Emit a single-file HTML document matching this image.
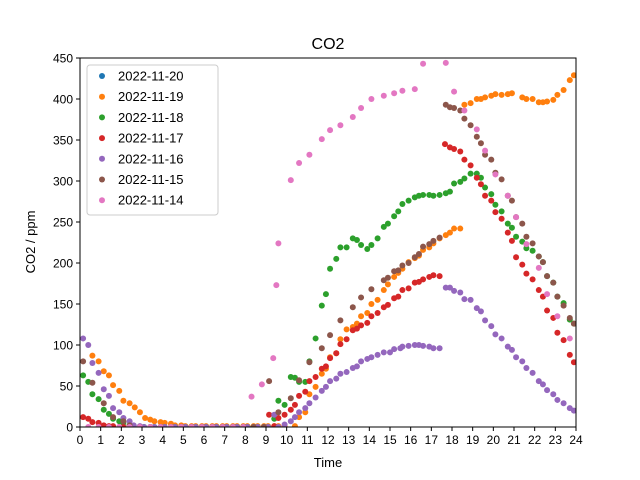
<!DOCTYPE html>
<html><head><meta charset="utf-8"><style>
body{margin:0;background:#fff}
svg{display:block;font-family:"Liberation Sans","DejaVu Sans",sans-serif}
</style></head><body>
<svg id="chart" width="640" height="480" viewBox="0 0 640 480">
<defs><clipPath id="plotclip"><rect x="80" y="58" width="496" height="369"/></clipPath></defs>
<rect x="0" y="0" width="640" height="480" fill="#fff"/>
<text x="328" y="49" text-anchor="middle" font-size="16">CO2</text>
<g id="axes"></g>
<g id="marks" clip-path="url(#plotclip)"></g>
<rect x="80" y="58" width="496" height="369" fill="none" stroke="#000" stroke-width="1"/>
<text x="328" y="467" text-anchor="middle" font-size="13">Time</text>
<text x="0" y="0" transform="translate(35,242) rotate(-90)" text-anchor="middle" font-size="13">CO2 / ppm</text>
<g id="legend"></g>
</svg>
<script>
const xTicks=[0,1,2,3,4,5,6,7,8,9,10,11,12,13,14,15,16,17,18,19,20,21,22,23,24];
const yTicks=[0,50,100,150,200,250,300,350,400,450];
const seriesNames=["2022-11-20","2022-11-19","2022-11-18","2022-11-17","2022-11-16","2022-11-15","2022-11-14"];
const seriesColors=["#1f77b4","#ff7f0e","#2ca02c","#d62728","#9467bd","#8c564b","#e377c2"];
const h20=[];const v20=[];
const h19=[0.6,0.9,1.15,1.4,1.6,1.9,2.1,2.4,2.65,2.9,3.15,3.4,3.6,3.9,4.1,4.4,4.6,4.9,5.1,5.4,5.6,5.9,6.1,6.4,6.6,6.9,7.1,7.4,7.6,7.9,8.1,8.4,8.6,8.9,9.1,9.4,9.6,9.9,10.4,10.6,10.9,11.1,11.4,11.7,11.9,12.1,12.4,12.6,12.9,13.2,13.4,13.6,13.9,14.1,14.4,14.7,14.9,15.2,15.4,15.6,15.9,16.2,16.4,16.6,16.9,17.1,17.4,17.7,17.9,18.1,18.4,18.6,18.9,19.2,19.4,19.6,19.9,20.1,20.4,20.7,20.9,21.4,21.6,21.9,22.2,22.4,22.6,22.9,23.1,23.4,23.7,23.9];
const v19=[87,80,68,63,51,44,32,29,24,18,11,9,7,6,5,4,2,2,1,1,1,1,1,1,1,1,1,1,1,1,1,1,1,1,1,1,1,1,1,12,18,40,49,65,71,85,90,107,119,122,126,135,139,150,155,167,174,183,188,193,201,206,209,216,219,224,230,234,237,242,242,393,395,400,400,402,404,406,405,406,407,402,400,400,396,396,397,399,405,411,423,429];
const h18=[0.15,0.4,0.6,0.9,1.15,1.4,1.6,1.9,2.1,2.4,2.6,2.9,3.1,3.4,3.6,3.9,4.1,4.4,4.6,4.9,5.1,5.4,5.6,5.9,6.1,6.4,6.6,6.9,7.1,7.4,7.6,7.9,8.1,8.4,8.6,8.9,9.1,9.4,9.6,9.9,10.2,10.4,10.6,10.9,11.1,11.4,11.7,11.9,12.1,12.4,12.6,12.9,13.2,13.4,13.6,13.9,14.1,14.4,14.7,14.9,15.2,15.4,15.6,15.9,16.2,16.4,16.6,16.9,17.1,17.4,17.7,17.9,18.1,18.4,18.6,18.9,19.2,19.4,19.6,19.9,20.1,20.4,20.7,20.9,21.1,21.4,21.6,21.9,22.2,22.4,22.6,22.9,23.1,23.4,23.7,23.9];
const v18=[63,55,40,34,21,16,10,7,5,2,1,0,0,0,0,0,0,0,0,0,0,0,0,0,0,0,0,0,0,0,0,0,0,0,0,0,0,10,32,27,61,60,55,55,80,108,148,162,193,205,219,219,230,228,222,217,222,230,244,248,257,263,272,276,280,282,283,283,282,283,285,287,297,299,303,309,309,304,292,284,271,263,248,243,232,226,218,215,208,201,184,176,159,151,131,126];
const h17=[0.15,0.4,0.6,0.9,1.15,1.4,1.6,1.9,2.1,2.4,2.6,9.15,9.4,9.6,9.9,10.2,10.4,10.6,10.9,11.1,11.4,11.7,11.9,12.1,12.4,12.6,12.9,13.2,13.4,13.6,13.9,14.1,14.4,14.7,14.9,15.2,15.4,15.6,15.9,16.2,16.4,16.6,16.9,17.1,17.4,17.66,17.9,18.1,18.4,18.6,18.9,19.2,19.4,19.6,19.9,20.1,20.4,20.7,20.9,21.1,21.4,21.6,21.9,22.2,22.4,22.6,22.9,23.1,23.4,23.7,23.9];
const v17=[12,10,6,5,2,1,1,0,0,0,0,15,1,11,15,21,27,38,43,56,61,71,74,84,90,101,107,118,120,124,127,135,139,146,149,157,159,167,169,176,177,180,183,185,184,345,341,339,336,326,319,304,296,282,276,262,254,237,227,207,198,187,180,167,159,142,133,115,106,88,79];
const h16=[0.15,0.4,0.6,0.9,1.15,1.4,1.6,1.9,2.1,2.4,2.6,2.9,3.1,3.4,3.6,3.9,4.1,4.4,4.6,4.9,5.1,5.4,5.6,5.9,6.1,6.4,6.6,6.9,7.1,7.4,7.6,7.9,8.1,8.4,8.6,8.9,9.1,9.4,9.6,9.9,10.2,10.4,10.6,10.9,11.1,11.4,11.7,11.9,12.1,12.4,12.6,12.9,13.2,13.4,13.6,13.9,14.1,14.4,14.7,15.0,15.2,15.5,15.6,15.9,16.2,16.4,16.6,16.9,17.1,17.4,17.7,17.9,18.1,18.4,18.6,18.9,19.2,19.4,19.6,19.9,20.1,20.4,20.7,20.9,21.1,21.4,21.6,21.9,22.2,22.4,22.6,22.9,23.1,23.4,23.7,23.9];
const v16=[108,100,78,66,46,38,23,18,11,7,2,1,0,0,0,0,0,0,0,0,0,0,0,0,0,0,0,0,0,0,0,0,0,0,0,0,0,15,0,3,7,12,18,23,29,36,44,49,56,59,65,67,72,74,80,83,85,88,91,91,95,96,98,99,100,100,99,98,96,96,170,170,166,164,156,155,145,141,130,123,113,108,98,94,85,80,72,66,56,52,45,40,33,29,23,20];
const h15=[0.15,0.6,1.15,1.6,2.1,2.4,2.9,3.4,3.9,4.4,4.9,5.4,5.9,6.4,6.9,7.4,7.9,8.4,8.9,9.15,9.6,10.2,10.6,11.1,11.7,12.1,12.6,13.2,13.6,14.1,14.7,14.9,15.2,15.4,15.6,15.9,16.2,16.4,16.6,16.9,17.1,17.4,17.7,17.9,18.1,18.4,18.6,18.9,19.2,19.4,19.6,19.9,20.1,20.4,20.7,20.9,21.1,21.4,21.6,21.9,22.2,22.4,22.6,22.9,23.1,23.4,23.7,23.9];
const v15=[80,54,29,12,7,2,0,0,0,0,0,0,0,0,0,0,0,0,0,56,18,35,57,79,96,112,130,146,158,168,179,182,190,191,197,200,207,211,220,223,227,231,393,390,389,386,376,368,354,346,332,326,310,302,282,276,256,248,232,224,208,201,184,176,159,148,133,126];
const h14=[0.4,0.9,1.4,1.9,2.4,2.9,3.4,3.9,4.4,4.9,5.4,5.9,6.4,6.9,7.4,7.9,8.3,8.8,9.35,9.5,9.6,10.2,10.6,11.1,11.7,12.1,12.6,13.2,13.6,14.1,14.7,15.2,15.6,16.2,16.6,17.7,18.1,18.6,19.2,19.6,20.1,20.7,21.1,21.6,22.2,22.6,23.1,23.7];
const v14=[0,0,0,0,0,0,0,0,0,0,0,0,0,0,0,0,37,52,84,173,224,301,322,332,351,362,368,378,389,400,404,407,410,412,443,444,409,386,363,337,308,282,256,223,194,162,135,108];
const seriesHours=[h20,h19,h18,h17,h16,h15,h14];
const seriesValues=[v20,v19,v18,v17,v16,v15,v14];

const X0=80,X1=576,Y0=427,Y1=58;
function xs(h){return X0+(h-0)/(24-0)*(X1-X0);}
function ys(v){return Y0-(v-0)/(450-0)*(Y0-Y1);}
const NS="http://www.w3.org/2000/svg";
const axes=document.getElementById('axes');
xTicks.forEach(t=>{
  const l=document.createElementNS(NS,'line');
  l.setAttribute('x1',xs(t));l.setAttribute('x2',xs(t));l.setAttribute('y1',Y0);l.setAttribute('y2',Y0+4);
  l.setAttribute('stroke','#000');
  
  
  axes.appendChild(l);
  const tx=document.createElementNS(NS,'text');
  tx.setAttribute('x',xs(t));tx.setAttribute('y',Y0+17);tx.setAttribute('text-anchor','middle');tx.setAttribute('font-size','12');
  tx.textContent=t;
  
  
  axes.appendChild(tx);
});
yTicks.forEach(t=>{
  const l=document.createElementNS(NS,'line');
  l.setAttribute('x1',X0-4);l.setAttribute('x2',X0);l.setAttribute('y1',ys(t));l.setAttribute('y2',ys(t));
  l.setAttribute('stroke','#000');
  
  
  axes.appendChild(l);
  const tx=document.createElementNS(NS,'text');
  tx.setAttribute('x',X0-7);tx.setAttribute('y',ys(t)+4.5);tx.setAttribute('text-anchor','end');tx.setAttribute('font-size','12');
  tx.textContent=t;
  
  
  axes.appendChild(tx);
});
const marks=document.getElementById('marks');
seriesHours.forEach((hs,si)=>{
  const g=document.createElementNS(NS,'g');
  g.setAttribute('fill',seriesColors[si]);
  
  
  hs.forEach((h,i)=>{
    const c=document.createElementNS(NS,'circle');
    c.setAttribute('cx',xs(h));c.setAttribute('cy',ys(seriesValues[si][i]));c.setAttribute('r','3');
    
    
    g.appendChild(c);
  });
  marks.appendChild(g);
});
const legend=document.getElementById('legend');
const box=document.createElementNS(NS,'rect');
box.setAttribute('x',87);box.setAttribute('y',65);box.setAttribute('width',131);box.setAttribute('height',150);box.setAttribute('rx',3);
box.setAttribute('fill','#fff');box.setAttribute('fill-opacity','0.8');box.setAttribute('stroke','#ccc');


legend.appendChild(box);
seriesNames.forEach((n,i)=>{
  const y=76+i*20.7;
  const c=document.createElementNS(NS,'circle');
  c.setAttribute('cx',102);c.setAttribute('cy',y);c.setAttribute('r',3);c.setAttribute('fill',seriesColors[i]);
  
  
  legend.appendChild(c);
  const t=document.createElementNS(NS,'text');
  t.setAttribute('x',118);t.setAttribute('y',y+4.5);t.setAttribute('font-size','13');
  t.textContent=n;
  
  
  legend.appendChild(t);
});
</script>
</body></html>
